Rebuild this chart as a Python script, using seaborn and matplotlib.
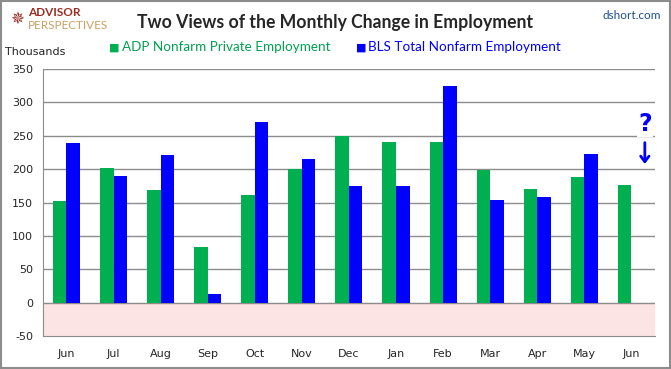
import numpy as np
import pandas as pd
import matplotlib
matplotlib.use('Agg')
import matplotlib.pyplot as plt
import seaborn as sns

# data (thousands)
months = ['Jun', 'Jul', 'Aug', 'Sep', 'Oct', 'Nov', 'Dec', 'Jan', 'Feb', 'Mar', 'Apr', 'May', 'Jun']
adp = [152, 201, 169, 84, 161, 200, 249, 240, 240, 199, 170, 188, 176]
bls = [239, 189, 221, 13, 270, 215, 175, 175, 324, 154, 158, 222, np.nan]
series = ['ADP Nonfarm Private Employment', 'BLS Total Nonfarm Employment']
colors = ['#00B050', '#0000FF']

keys = [f'{m}{i}' for i, m in enumerate(months)]
df = pd.DataFrame({
    'key': keys * 2,
    'value': adp + bls,
    'series': [series[0]] * len(keys) + [series[1]] * len(keys),
})

sns.set_style('white')
plt.rcParams['font.family'] = ['DejaVu Sans']
plt.rcParams['axes.unicode_minus'] = False

fig = plt.figure(figsize=(6.71, 3.69), dpi=100)
ax = fig.add_axes([0.064, 0.0894, 0.912, 0.7236])

ax.axhspan(-50, 0, color='#FDE4E4', zorder=0)
for yv in range(0, 351, 50):
    ax.axhline(yv, color='#8C8C8C', lw=1, zorder=1)

sns.barplot(data=df, x='key', y='value', hue='series', order=keys,
            hue_order=series, palette=colors, width=0.575, gap=0,
            saturation=1, linewidth=0, legend=False, ax=ax, zorder=2)

ax.set_ylim(-50, 350)
ax.set_xlim(-0.5, len(keys) - 0.5)
ax.set_yticks(range(-50, 351, 50))
ax.set_xticks(range(len(keys)))
ax.set_xticklabels(months)
ax.set_xlabel('')
ax.set_ylabel('')
ax.tick_params(axis='y', length=4, color='#8C8C8C', labelsize=8, pad=3)
ax.tick_params(axis='x', length=0, labelsize=8, pad=9)
for s in ['top', 'right']:
    ax.spines[s].set_visible(False)
ax.spines['left'].set_color('#8C8C8C')
ax.spines['bottom'].set_color('#8C8C8C')

# titles and legend
fig.text(0.499, 0.94, 'Two Views of the Monthly Change in Employment',
         ha='center', va='center', fontsize=12.7, fontweight='bold', family='Lato')
fig.text(0.985, 0.958, 'dshort.com', ha='right', va='center',
         fontsize=8.5, color='#1F4E8C', family='Lato')
fig.text(0.042, 0.965, 'ADVISOR', ha='left', va='center', fontsize=8.5,
         fontweight='bold', color='#9B2D1F', family='Lato')
fig.text(0.042, 0.93, 'PERSPECTIVES', ha='left', va='center', fontsize=8.5,
         color='#C8A064', family='Lato')
fig.text(0.026, 0.948, '\u2735', ha='center', va='center', fontsize=12,
         color='#9B2D1F')
fig.text(0.008, 0.858, 'Thousands', ha='left', va='center', fontsize=8)
fig.text(0.163, 0.872, '\u25A0', ha='left', va='center', fontsize=8, color='#00B050')
fig.text(0.182, 0.872, series[0], ha='left', va='center',
         fontsize=9.7, color='#00A050', family='Lato')
fig.text(0.531, 0.872, '\u25A0', ha='left', va='center', fontsize=8, color='#0000FF')
fig.text(0.548, 0.872, series[1], ha='left', va='center',
         fontsize=9.7, color='#0000FF', family='Lato')

# question mark and arrow over the Jun BLS slot
fig.text(0.961, 0.664, '?', ha='center', va='center', fontsize=17,
         fontweight='bold', color='#0000FF',
         bbox=dict(facecolor='white', edgecolor='none', pad=1))
fig.patches.append(matplotlib.patches.FancyArrowPatch(
    (0.961, 0.621), (0.961, 0.548), transform=fig.transFigure,
    arrowstyle='->,head_width=3,head_length=4', color='#0000FF', lw=2))

# outer border
fig.patches.append(matplotlib.patches.Rectangle(
    (0.001, 0.002), 0.997, 0.996, transform=fig.transFigure,
    fill=False, edgecolor='#8C8C8C', lw=1.5))

fig.savefig('out.png', dpi=100)
